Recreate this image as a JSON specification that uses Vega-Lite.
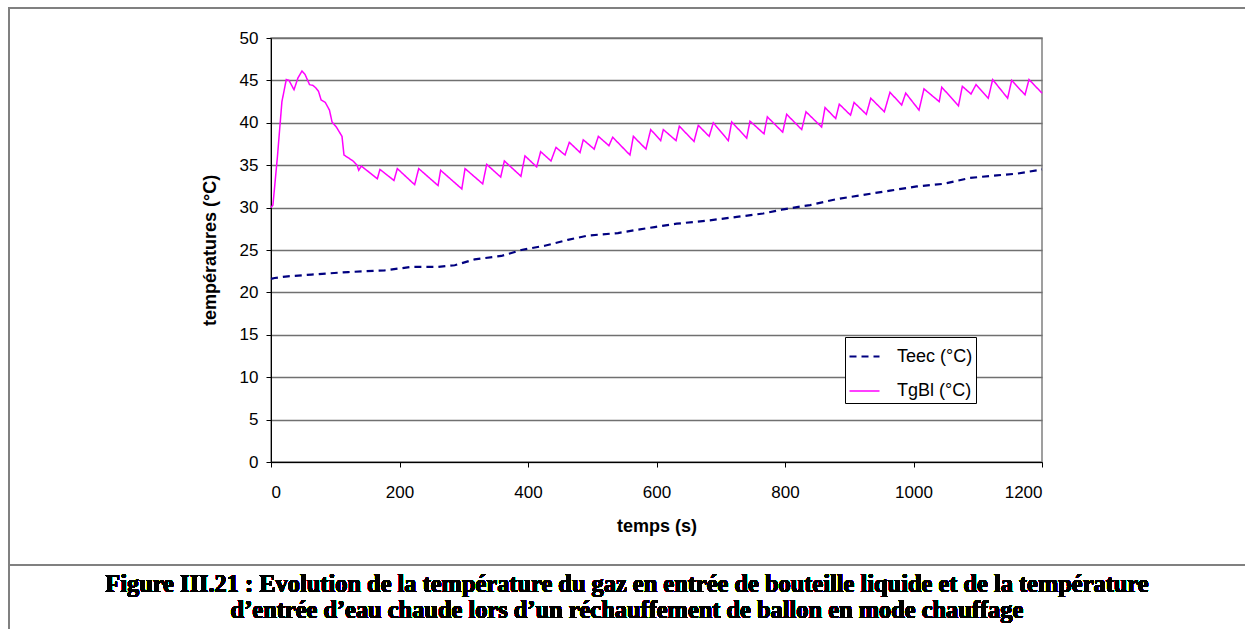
{
  "$schema": "https://vega.github.io/schema/vega-lite/v6.json",
  "width": 771,
  "height": 424,
  "autosize": "none",
  "padding": {"left": 271, "top": 38, "right": 203, "bottom": 167},
  "background": "white",
  "config": {
    "view": {"stroke": "#808080", "strokeWidth": 1.5},
    "font": "Liberation Sans"
  },
  "data": {
    "values": [
      {"t": 0, "v": 30.0, "s": "TgBl (°C)"},
      {"t": 3, "v": 30.3, "s": "TgBl (°C)"},
      {"t": 10, "v": 36.0, "s": "TgBl (°C)"},
      {"t": 17, "v": 42.5, "s": "TgBl (°C)"},
      {"t": 23.8, "v": 45.1, "s": "TgBl (°C)"},
      {"t": 28, "v": 45.0, "s": "TgBl (°C)"},
      {"t": 35.8, "v": 43.9, "s": "TgBl (°C)"},
      {"t": 42, "v": 45.3, "s": "TgBl (°C)"},
      {"t": 48.2, "v": 46.1, "s": "TgBl (°C)"},
      {"t": 53, "v": 45.7, "s": "TgBl (°C)"},
      {"t": 60, "v": 44.5, "s": "TgBl (°C)"},
      {"t": 65.4, "v": 44.4, "s": "TgBl (°C)"},
      {"t": 70, "v": 44.1, "s": "TgBl (°C)"},
      {"t": 74, "v": 43.7, "s": "TgBl (°C)"},
      {"t": 78, "v": 42.7, "s": "TgBl (°C)"},
      {"t": 84.5, "v": 42.4, "s": "TgBl (°C)"},
      {"t": 91, "v": 41.5, "s": "TgBl (°C)"},
      {"t": 95, "v": 40.1, "s": "TgBl (°C)"},
      {"t": 101.7, "v": 39.5, "s": "TgBl (°C)"},
      {"t": 110.5, "v": 38.4, "s": "TgBl (°C)"},
      {"t": 113.6, "v": 36.2, "s": "TgBl (°C)"},
      {"t": 119.8, "v": 35.9, "s": "TgBl (°C)"},
      {"t": 127.6, "v": 35.5, "s": "TgBl (°C)"},
      {"t": 134, "v": 35.0, "s": "TgBl (°C)"},
      {"t": 136.5, "v": 34.4, "s": "TgBl (°C)"},
      {"t": 140.6, "v": 34.9, "s": "TgBl (°C)"},
      {"t": 165.5, "v": 33.4, "s": "TgBl (°C)"},
      {"t": 169.6, "v": 34.5, "s": "TgBl (°C)"},
      {"t": 191.4, "v": 33.2, "s": "TgBl (°C)"},
      {"t": 196.6, "v": 34.6, "s": "TgBl (°C)"},
      {"t": 223.6, "v": 32.7, "s": "TgBl (°C)"},
      {"t": 229.9, "v": 34.6, "s": "TgBl (°C)"},
      {"t": 260, "v": 32.6, "s": "TgBl (°C)"},
      {"t": 264, "v": 34.4, "s": "TgBl (°C)"},
      {"t": 297, "v": 32.2, "s": "TgBl (°C)"},
      {"t": 302, "v": 34.6, "s": "TgBl (°C)"},
      {"t": 329.5, "v": 32.8, "s": "TgBl (°C)"},
      {"t": 335.7, "v": 35.1, "s": "TgBl (°C)"},
      {"t": 357.5, "v": 33.6, "s": "TgBl (°C)"},
      {"t": 363.2, "v": 35.5, "s": "TgBl (°C)"},
      {"t": 389, "v": 33.7, "s": "TgBl (°C)"},
      {"t": 395.3, "v": 36.1, "s": "TgBl (°C)"},
      {"t": 413.5, "v": 34.8, "s": "TgBl (°C)"},
      {"t": 419.7, "v": 36.6, "s": "TgBl (°C)"},
      {"t": 435.8, "v": 35.5, "s": "TgBl (°C)"},
      {"t": 443.6, "v": 37.1, "s": "TgBl (°C)"},
      {"t": 457.6, "v": 36.2, "s": "TgBl (°C)"},
      {"t": 464.3, "v": 37.7, "s": "TgBl (°C)"},
      {"t": 481, "v": 36.5, "s": "TgBl (°C)"},
      {"t": 486, "v": 38.0, "s": "TgBl (°C)"},
      {"t": 503, "v": 36.9, "s": "TgBl (°C)"},
      {"t": 509.5, "v": 38.4, "s": "TgBl (°C)"},
      {"t": 526, "v": 37.3, "s": "TgBl (°C)"},
      {"t": 531.8, "v": 38.3, "s": "TgBl (°C)"},
      {"t": 558.7, "v": 36.2, "s": "TgBl (°C)"},
      {"t": 564, "v": 38.4, "s": "TgBl (°C)"},
      {"t": 583.6, "v": 36.9, "s": "TgBl (°C)"},
      {"t": 591, "v": 39.2, "s": "TgBl (°C)"},
      {"t": 606.5, "v": 37.9, "s": "TgBl (°C)"},
      {"t": 610.6, "v": 39.2, "s": "TgBl (°C)"},
      {"t": 630.4, "v": 37.9, "s": "TgBl (°C)"},
      {"t": 635.5, "v": 39.6, "s": "TgBl (°C)"},
      {"t": 658.4, "v": 37.8, "s": "TgBl (°C)"},
      {"t": 665, "v": 39.7, "s": "TgBl (°C)"},
      {"t": 682, "v": 38.4, "s": "TgBl (°C)"},
      {"t": 688.4, "v": 40.0, "s": "TgBl (°C)"},
      {"t": 711.8, "v": 37.9, "s": "TgBl (°C)"},
      {"t": 717, "v": 40.1, "s": "TgBl (°C)"},
      {"t": 740.4, "v": 38.2, "s": "TgBl (°C)"},
      {"t": 745.5, "v": 40.2, "s": "TgBl (°C)"},
      {"t": 767.3, "v": 38.7, "s": "TgBl (°C)"},
      {"t": 772.5, "v": 40.7, "s": "TgBl (°C)"},
      {"t": 796.4, "v": 38.9, "s": "TgBl (°C)"},
      {"t": 802.6, "v": 41.0, "s": "TgBl (°C)"},
      {"t": 826, "v": 39.2, "s": "TgBl (°C)"},
      {"t": 832.7, "v": 41.3, "s": "TgBl (°C)"},
      {"t": 857, "v": 39.5, "s": "TgBl (°C)"},
      {"t": 862.3, "v": 41.8, "s": "TgBl (°C)"},
      {"t": 878.9, "v": 40.5, "s": "TgBl (°C)"},
      {"t": 884.5, "v": 42.2, "s": "TgBl (°C)"},
      {"t": 902, "v": 40.9, "s": "TgBl (°C)"},
      {"t": 907.5, "v": 42.4, "s": "TgBl (°C)"},
      {"t": 926.6, "v": 41.0, "s": "TgBl (°C)"},
      {"t": 933.5, "v": 42.9, "s": "TgBl (°C)"},
      {"t": 954.6, "v": 41.3, "s": "TgBl (°C)"},
      {"t": 963.4, "v": 43.6, "s": "TgBl (°C)"},
      {"t": 981.6, "v": 42.1, "s": "TgBl (°C)"},
      {"t": 987.9, "v": 43.5, "s": "TgBl (°C)"},
      {"t": 1008.6, "v": 41.5, "s": "TgBl (°C)"},
      {"t": 1016.3, "v": 44.0, "s": "TgBl (°C)"},
      {"t": 1040, "v": 42.5, "s": "TgBl (°C)"},
      {"t": 1044, "v": 44.2, "s": "TgBl (°C)"},
      {"t": 1070, "v": 42.0, "s": "TgBl (°C)"},
      {"t": 1076, "v": 44.3, "s": "TgBl (°C)"},
      {"t": 1089.5, "v": 43.4, "s": "TgBl (°C)"},
      {"t": 1097.3, "v": 44.5, "s": "TgBl (°C)"},
      {"t": 1116.4, "v": 42.9, "s": "TgBl (°C)"},
      {"t": 1123.2, "v": 45.1, "s": "TgBl (°C)"},
      {"t": 1146.5, "v": 42.9, "s": "TgBl (°C)"},
      {"t": 1152.8, "v": 45.0, "s": "TgBl (°C)"},
      {"t": 1173.5, "v": 43.3, "s": "TgBl (°C)"},
      {"t": 1179.8, "v": 45.1, "s": "TgBl (°C)"},
      {"t": 1200, "v": 43.5, "s": "TgBl (°C)"},
      {"t": 0, "v": 21.6, "s": "Teec (°C)"},
      {"t": 5.7, "v": 21.7, "s": "Teec (°C)"},
      {"t": 26, "v": 21.9, "s": "Teec (°C)"},
      {"t": 63, "v": 22.1, "s": "Teec (°C)"},
      {"t": 120, "v": 22.4, "s": "Teec (°C)"},
      {"t": 177, "v": 22.6, "s": "Teec (°C)"},
      {"t": 218, "v": 23.0, "s": "Teec (°C)"},
      {"t": 260, "v": 23.0, "s": "Teec (°C)"},
      {"t": 286, "v": 23.2, "s": "Teec (°C)"},
      {"t": 317, "v": 23.9, "s": "Teec (°C)"},
      {"t": 358.5, "v": 24.3, "s": "Teec (°C)"},
      {"t": 389.6, "v": 25.0, "s": "Teec (°C)"},
      {"t": 426, "v": 25.5, "s": "Teec (°C)"},
      {"t": 462, "v": 26.2, "s": "Teec (°C)"},
      {"t": 493.4, "v": 26.7, "s": "Teec (°C)"},
      {"t": 540, "v": 27.0, "s": "Teec (°C)"},
      {"t": 571, "v": 27.4, "s": "Teec (°C)"},
      {"t": 597, "v": 27.7, "s": "Teec (°C)"},
      {"t": 631.5, "v": 28.1, "s": "Teec (°C)"},
      {"t": 683, "v": 28.5, "s": "Teec (°C)"},
      {"t": 725, "v": 28.9, "s": "Teec (°C)"},
      {"t": 766, "v": 29.3, "s": "Teec (°C)"},
      {"t": 797.5, "v": 29.8, "s": "Teec (°C)"},
      {"t": 839, "v": 30.3, "s": "Teec (°C)"},
      {"t": 880.5, "v": 31.0, "s": "Teec (°C)"},
      {"t": 922, "v": 31.5, "s": "Teec (°C)"},
      {"t": 963.4, "v": 32.0, "s": "Teec (°C)"},
      {"t": 1005, "v": 32.5, "s": "Teec (°C)"},
      {"t": 1046.5, "v": 32.8, "s": "Teec (°C)"},
      {"t": 1088, "v": 33.5, "s": "Teec (°C)"},
      {"t": 1129.5, "v": 33.8, "s": "Teec (°C)"},
      {"t": 1160.6, "v": 34.0, "s": "Teec (°C)"},
      {"t": 1200, "v": 34.5, "s": "Teec (°C)"}
    ]
  },
  "layer": [
    {
      "mark": {"type": "rect", "fill": null, "stroke": "#808080", "strokeWidth": 1.5},
      "encoding": {
        "x": {"datum": -408, "type": "quantitative", "scale": {"domain": [0, 1200]}},
        "x2": {"datum": 1560},
        "y": {"datum": 53.5, "type": "quantitative", "scale": {"domain": [0, 50]}},
        "y2": {"datum": -12.15}
      }
    },
    {
      "mark": {"type": "rule", "stroke": "#808080", "strokeWidth": 1.5},
      "encoding": {
        "x": {"datum": -408, "type": "quantitative"},
        "y": {"datum": -12.15, "type": "quantitative"},
        "y2": {"datum": -22}
      }
    },
    {
      "mark": {"type": "text", "text": "Figure III.21 : Evolution de la température du gaz en entrée de bouteille liquide et de la température", "font": "Liberation Serif", "fontSize": 24.4, "fontWeight": "bold", "fill": "black", "stroke": null, "align": "center", "baseline": "middle"},
      "encoding": {
        "x": {"datum": 554, "type": "quantitative"},
        "y": {"datum": -14.5, "type": "quantitative"}
      }
    },
    {
      "mark": {"type": "text", "text": "d’entrée d’eau chaude lors d’un réchauffement de ballon en mode chauffage", "font": "Liberation Serif", "fontSize": 24.4, "fontWeight": "bold", "fill": "black", "stroke": null, "align": "center", "baseline": "middle"},
      "encoding": {
        "x": {"datum": 554, "type": "quantitative"},
        "y": {"datum": -17.57, "type": "quantitative"}
      }
    },
    {
      "mark": {"type": "line", "interpolate": "linear"},
      "encoding": {
        "x": {
          "field": "t", "type": "quantitative",
          "scale": {"domain": [0, 1200], "nice": false, "zero": false},
          "axis": {
            "title": "temps (s)", "values": [0, 200, 400, 600, 800, 1000, 1200], "format": "d",
            "grid": false, "domainColor": "black", "tickColor": "black", "tickSize": 5,
            "labelFontSize": 17, "labelColor": "black", "labelPadding": 17, "labelFont": "Liberation Sans",
            "titleFontSize": 18, "titleFontWeight": "bold", "titleColor": "black", "titlePadding": 17, "titleFont": "Liberation Sans"
          }
        },
        "y": {
          "field": "v", "type": "quantitative",
          "scale": {"domain": [0, 50], "nice": false},
          "axis": {
            "title": "températures (°C)", "values": [0, 5, 10, 15, 20, 25, 30, 35, 40, 45, 50],
            "grid": true, "gridColor": "#707070", "gridWidth": 1.5,
            "domainColor": "black", "tickColor": "black", "tickSize": 5,
            "labelFontSize": 17, "labelColor": "black", "labelPadding": 8, "labelFont": "Liberation Sans",
            "titleFontSize": 18, "titleFontWeight": "bold", "titleColor": "black", "titlePadding": 20, "titleFont": "Liberation Sans"
          }
        },
        "color": {
          "field": "s", "type": "nominal",
          "scale": {"domain": ["Teec (°C)", "TgBl (°C)"], "range": ["#000080", "#FF00FF"]},
          "legend": {
            "title": null, "orient": "none", "legendX": 574, "legendY": 299,
            "fillColor": "white", "strokeColor": "black", "padding": 3,
            "labelFontSize": 18, "labelColor": "black", "labelFont": "Liberation Sans",
            "symbolType": "stroke", "symbolSize": 900, "symbolStrokeWidth": 1.5,
            "rowPadding": 9, "labelOffset": 16
          }
        },
        "strokeDash": {
          "field": "s", "type": "nominal",
          "scale": {"domain": ["Teec (°C)", "TgBl (°C)"], "range": [[7, 5], [1, 0]]},
          "legend": null
        },
        "strokeWidth": {
          "field": "s", "type": "nominal",
          "scale": {"domain": ["Teec (°C)", "TgBl (°C)"], "range": [2.2, 1.5]},
          "legend": null
        }
      }
    }
  ]
}
